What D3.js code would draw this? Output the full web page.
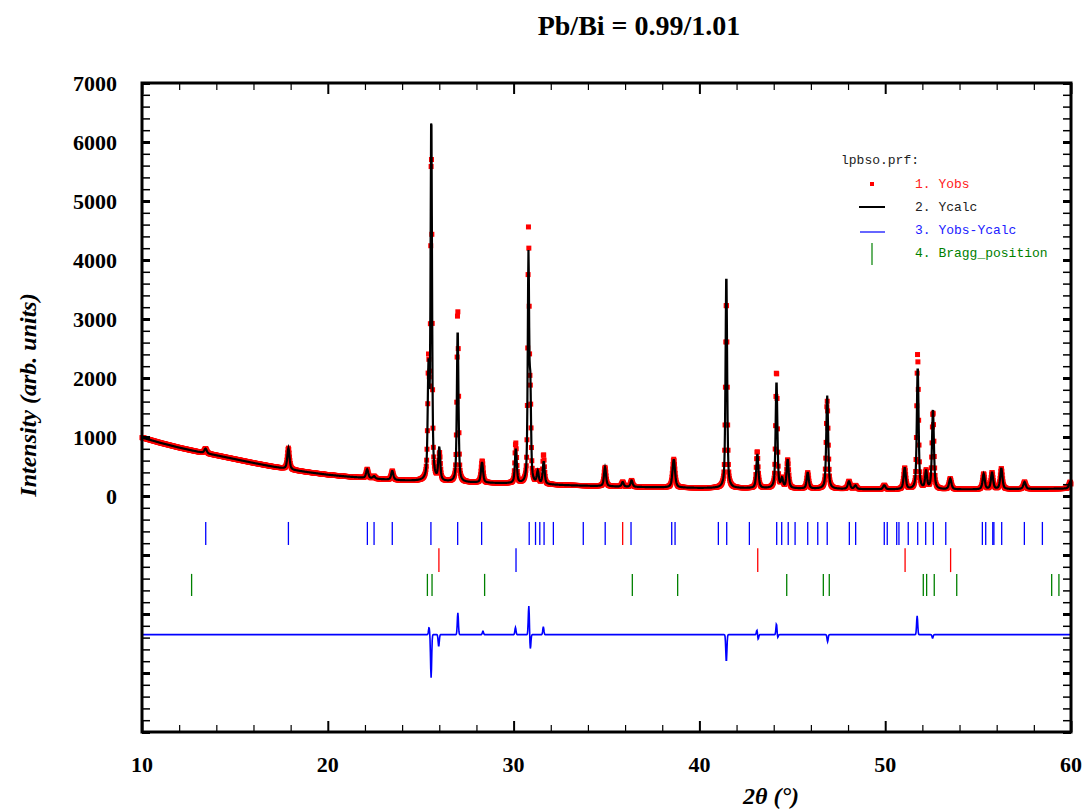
<!DOCTYPE html>
<html>
<head>
<meta charset="utf-8">
<script src="https://cdn.jsdelivr.net/npm/d3@7"></script>
<style>
  body { margin: 0; background: #fff; }
  svg { display: block; }
</style>
</head>
<body>
<div id="chart"></div>
<script>
// background level
const bgTheta  = [10, 11, 12, 13, 14, 15, 16, 17, 18, 19, 20, 21, 22, 23, 24, 26, 28, 30, 33, 36, 40, 45, 50, 55, 60];
const bgCounts = [990, 900, 820, 750, 690, 625, 560, 500, 445, 400, 360, 330, 305, 280, 262, 240, 225, 210, 180, 155, 135, 125, 110, 110, 125];

// reflections seen in the pattern: position (deg), height above background, fwhm (deg)
const peakPos    = [13.42, 17.88, 22.12, 22.49, 23.47, 25.42, 25.57, 26.0, 26.99, 28.3, 30.12, 30.8, 30.9, 31.3, 31.62,
                    34.92, 35.87, 36.35, 38.62, 41.45, 43.12, 44.15, 44.45, 44.75, 45.83, 46.88, 48.05, 48.4, 49.95,
                    51.05, 51.75, 52.2, 52.57, 53.5, 55.3, 55.75, 56.25, 57.5, 59.95];
const peakHeight = [80, 360, 150, 40, 150, 1800, 6200, 550, 2600, 350, 580, 3800, 1500, 200, 380,
                    320, 80, 110, 480, 3650, 580, 1820, 150, 480, 270, 1580, 130, 60, 70,
                    360, 2080, 300, 1350, 180, 260, 280, 350, 120, 110];
const peakWidth  = [0.15, 0.14, 0.14, 0.14, 0.14, 0.10, 0.09, 0.12, 0.10, 0.13, 0.12, 0.09, 0.09, 0.12, 0.12,
                    0.13, 0.13, 0.13, 0.16, 0.10, 0.13, 0.11, 0.12, 0.13, 0.13, 0.12, 0.15, 0.15, 0.15,
                    0.14, 0.11, 0.12, 0.12, 0.15, 0.14, 0.14, 0.14, 0.15, 0.15];

// misfit spikes in Yobs-Ycalc: position, amplitude
const diffPos = [25.45, 25.56, 25.97, 27.0, 28.35, 30.1, 30.82, 30.9, 31.6, 41.45, 43.1, 43.16, 44.15, 44.21, 46.9, 51.72, 52.55];
const diffAmp = [120, -730, -200, 370, 60, 120, 490, -250, 135, -460, 85, -85, 190, -60, -120, 320, -60];
const diffOffset = -2350;

// Bragg reflection markers, three rows
const braggRow1 = [13.43, 17.88, 22.13, 22.49, 23.47, 25.55, 26.99, 28.28, 30.84, 31.18, 31.41, 31.64, 32.14, 33.75,
                   34.93, 35.87, 36.32, 38.51, 38.69, 41.02, 41.47, 42.69, 44.16, 44.43, 44.78, 45.15, 45.83, 46.37,
                   46.88, 48.07, 48.41, 49.95, 50.11, 50.62, 50.74, 51.24, 51.75, 52.18, 52.59, 53.26, 55.23, 55.41,
                   55.79, 55.85, 56.27, 57.49, 58.46];
const braggRow2 = [25.98, 30.13, 43.14, 51.07, 53.52];
const braggRow3 = [12.67, 25.36, 25.61, 28.44, 36.39, 38.83, 44.70, 46.67, 46.99, 52.05, 52.23, 52.64, 53.85, 58.96, 59.35];
const braggRedInRow1 = [35.87];
const braggBlueInRow2 = [30.13];

const xTicks = [10, 20, 30, 40, 50, 60];
const yTicks = [0, 1000, 2000, 3000, 4000, 5000, 6000, 7000];

const W = 1084, H = 809;
const pL = 142, pR = 1071, pT = 83, pB = 732;

const svg = d3.select("#chart").append("svg")
  .attr("width", W).attr("height", H);

const x = d3.scaleLinear().domain([10, 60]).range([pL, pR]);
const y = d3.scaleLinear().domain([-4000, 7000]).range([pB, pT]);

const bg = d3.scaleLinear().domain(bgTheta).range(bgCounts);

function ycalc(t) {
  let s = bg(t);
  peakPos.forEach((p, i) => {
    let u = (t - p) / (peakWidth[i] / 2);
    let L = 1 / (1 + u * u);
    let G = Math.exp(-Math.LN2 * u * u);
    s += peakHeight[i] * (0.55 * L + 0.45 * G);
  });
  return s;
}
function misfit(t) {
  let s = 0;
  diffPos.forEach((p, i) => {
    let u = (t - p) / 0.03;
    s += diffAmp[i] * Math.exp(-0.5 * u * u);
  });
  return s;
}

let steps = d3.range(10, 60.0001, 0.02);
let prof = steps.map(t => {
  let c = ycalc(t), d = misfit(t);
  return {t: t, calc: c, obs: c + d, diff: d};
});

let plot = svg.append("g");

// observed points
plot.selectAll("rect.obs")
  .data(prof)
  .enter().append("rect")
  .attr("class", "obs")
  .attr("x", d => x(d.t) - 2.5)
  .attr("y", d => y(d.obs) - 2.5)
  .attr("width", 5)
  .attr("height", 5)
  .attr("fill", "#ff0000");

// calculated
plot.append("path")
  .datum(prof)
  .attr("d", d3.line().x(d => x(d.t)).y(d => y(d.calc)))
  .attr("fill", "none")
  .attr("stroke", "#000")
  .attr("stroke-width", 2.2);

// difference
plot.append("path")
  .datum(prof)
  .attr("d", d3.line().x(d => x(d.t)).y(d => y(diffOffset + d.diff)))
  .attr("fill", "none")
  .attr("stroke", "#0000ff")
  .attr("stroke-width", 1.6);

// bragg markers
function braggRow(list, y0, y1, colorOf) {
  plot.selectAll(null)
    .data(list)
    .enter().append("line")
    .attr("x1", d => x(d)).attr("x2", d => x(d))
    .attr("y1", y(y0)).attr("y2", y(y1))
    .attr("stroke", colorOf)
    .attr("stroke-width", 1.3);
}
braggRow(braggRow1, -440, -830, d => braggRedInRow1.includes(d) ? "#ff0000" : "#0000ff");
braggRow(braggRow2, -885, -1290, d => braggBlueInRow2.includes(d) ? "#0000ff" : "#ff0000");
braggRow(braggRow3, -1320, -1695, () => "#008000");

// axes ticks (inward on all four sides)
function ticksY(g, axisFn, vals, size, sw) {
  g.call(axisFn(y).tickValues(vals).tickSize(size).tickFormat(""))
   .call(a => a.select(".domain").remove())
   .selectAll("line").attr("stroke", "#000").attr("stroke-width", sw);
}
function ticksX(g, axisFn, vals, size, sw) {
  g.call(axisFn(x).tickValues(vals).tickSize(size).tickFormat(""))
   .call(a => a.select(".domain").remove())
   .selectAll("line").attr("stroke", "#000").attr("stroke-width", sw);
}
let yMinor = d3.range(-4000, 7001, 200).filter(v => v % 1000 !== 0);
let yMajor = d3.range(-4000, 7001, 1000);
let xMinor = d3.range(10, 60.01, 2).filter(v => v % 10 !== 0);

ticksY(svg.append("g").attr("transform", `translate(${pL},0)`), d3.axisRight, yMinor, 8, 1.5);
ticksY(svg.append("g").attr("transform", `translate(${pL},0)`), d3.axisRight, yMajor, 8, 3);
ticksY(svg.append("g").attr("transform", `translate(${pR},0)`), d3.axisLeft, yMinor, 8, 1.5);
ticksY(svg.append("g").attr("transform", `translate(${pR},0)`), d3.axisLeft, yMajor, 8, 3);
ticksX(svg.append("g").attr("transform", `translate(0,${pB})`), d3.axisTop, xMinor, 7, 1.2);
ticksX(svg.append("g").attr("transform", `translate(0,${pB})`), d3.axisTop, xTicks, 11, 2);
ticksX(svg.append("g").attr("transform", `translate(0,${pT})`), d3.axisBottom, xMinor, 7, 1.2);
ticksX(svg.append("g").attr("transform", `translate(0,${pT})`), d3.axisBottom, xTicks, 11, 2);

// frame
svg.append("rect")
  .attr("x", pL).attr("y", pT)
  .attr("width", pR - pL).attr("height", pB - pT)
  .attr("fill", "none").attr("stroke", "#000").attr("stroke-width", 3);

// tick labels
const serif = "'Liberation Serif', 'Times New Roman', serif";
svg.selectAll("text.ylab")
  .data(yTicks)
  .enter().append("text")
  .attr("class", "ylab")
  .attr("x", 117).attr("y", d => y(d))
  .attr("dy", "0.35em")
  .attr("text-anchor", "end")
  .attr("font-family", serif).attr("font-weight", "bold").attr("font-size", 22)
  .text(d => d);

svg.selectAll("text.xlab")
  .data(xTicks)
  .enter().append("text")
  .attr("class", "xlab")
  .attr("x", d => x(d)).attr("y", 772)
  .attr("text-anchor", "middle")
  .attr("font-family", serif).attr("font-weight", "bold").attr("font-size", 22)
  .text(d => d);

// titles
svg.append("text")
  .attr("x", 639).attr("y", 35)
  .attr("text-anchor", "middle")
  .attr("font-family", serif).attr("font-weight", "bold").attr("font-size", 28)
  .text("Pb/Bi = 0.99/1.01");

svg.append("text")
  .attr("transform", "translate(36,395) rotate(-90)")
  .attr("text-anchor", "middle")
  .attr("font-family", serif).attr("font-weight", "bold").attr("font-style", "italic").attr("font-size", 24)
  .text("Intensity (arb. units)");

svg.append("text")
  .attr("x", 771).attr("y", 804)
  .attr("text-anchor", "middle")
  .attr("font-family", serif).attr("font-weight", "bold").attr("font-style", "italic").attr("font-size", 24)
  .text("2θ (°)");

// legend
const mono = "'Liberation Mono', 'DejaVu Sans Mono', monospace";
let lg = svg.append("g").attr("font-family", mono).attr("font-size", 13);
lg.append("text").attr("x", 841).attr("y", 164).attr("fill", "#222").text("lpbso.prf:");
let items = [
  {label: "1. Yobs", color: "#ff2020", y: 184},
  {label: "2. Ycalc", color: "#222", y: 207},
  {label: "3. Yobs-Ycalc", color: "#2020ff", y: 230},
  {label: "4. Bragg_position", color: "#008000", y: 253}
];
lg.selectAll("text.item")
  .data(items)
  .enter().append("text")
  .attr("class", "item")
  .attr("x", 915).attr("y", d => d.y + 4)
  .attr("fill", d => d.color)
  .text(d => d.label);
lg.append("rect").attr("x", 870).attr("y", 182).attr("width", 4).attr("height", 4).attr("fill", "#ff0000");
lg.append("line").attr("x1", 859).attr("x2", 885).attr("y1", 207).attr("y2", 207)
  .attr("stroke", "#000").attr("stroke-width", 2);
lg.append("line").attr("x1", 860).attr("x2", 885).attr("y1", 232).attr("y2", 232)
  .attr("stroke", "#0000ff").attr("stroke-width", 1.2);
lg.append("line").attr("x1", 872).attr("x2", 872).attr("y1", 243).attr("y2", 265)
  .attr("stroke", "#008000").attr("stroke-width", 1.2);
</script>
</body>
</html>
